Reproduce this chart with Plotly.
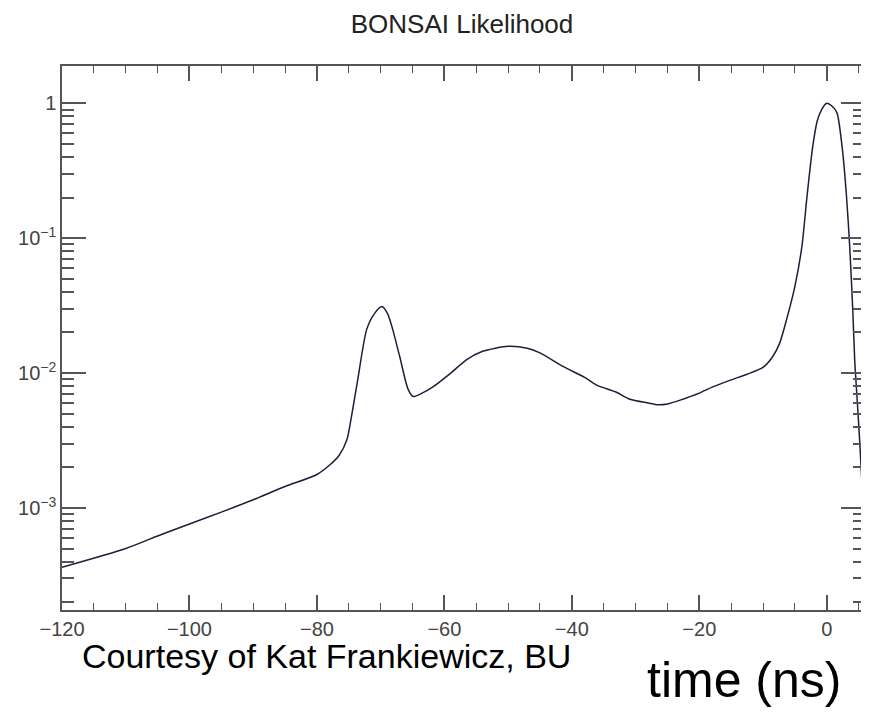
import plotly.graph_objects as go

# ---- data ----
time_ns = [-120, -110, -104.6, -100, -95, -90, -85, -80, -78, -76.5, -75.3, -74.5,
           -73.6, -72.2, -71, -69.8, -68.9, -68.1, -67.0, -65.7, -64.9, -63.5, -61.8,
           -59, -56.5, -54, -52, -50, -47, -45, -41.4, -38, -36, -33, -30.9, -28,
           -26.5, -25, -23, -20, -17.9, -15, -12.5, -10, -8.5, -7.4, -6.3, -5.0,
           -3.9, -3.1, -2.2, -1.5, -0.8, 0, 0.8, 1.6, 2.4, 3.1, 3.6, 4.1, 4.4, 4.9,
           5.5, 5.7]
likelihood = [3.63e-4, 5.0e-4, 6.3e-4, 7.6e-4, 9.3e-4, 1.15e-3, 1.44e-3, 1.77e-3,
              2.08e-3, 2.46e-3, 3.2e-3, 5.0e-3, 8.9e-3, 0.021, 0.0275, 0.0311,
              0.0275, 0.021, 0.0132, 0.0076, 0.0067, 0.0071, 0.0079, 0.010, 0.0126,
              0.0145, 0.0153, 0.0158, 0.0153, 0.0141, 0.0112, 0.0093, 0.0081,
              0.0072, 0.0064, 0.0060, 0.00582, 0.0059, 0.0063, 0.0071, 0.0079,
              0.0089, 0.0098, 0.011, 0.0132, 0.0166, 0.025, 0.044, 0.087, 0.204,
              0.479, 0.74, 0.90, 1.0, 0.955, 0.85, 0.479, 0.204, 0.087, 0.028,
              0.012, 0.0051, 0.0016, 7.9e-4]

y_tick_vals = [1e-3, 1e-2, 1e-1, 1]
y_tick_text = ["10<sup>−3</sup>", "10<sup>−2</sup>", "10<sup>−1</sup>", "1"]
title_text = "BONSAI Likelihood"
credit_text = "Courtesy of Kat Frankiewicz, BU"
xlabel_text = "time (ns)"

minor_y = [k * 10.0 ** e for e in range(-4, 1) for k in range(2, 10)]

FONT = "Liberation Sans, Arial, sans-serif"
AX = "#555555"
OFF = 8  # page body margin offset

W, H = 869 - OFF, 712 - OFF
L, R, T, B = 62 - OFF, 4, 66 - OFF, 712 - 610
PW, PH = W - L - R, H - T - B

fig = go.Figure()
fig.add_trace(go.Scatter(
    x=time_ns, y=likelihood, mode="lines",
    line=dict(color="#1e1e3c", width=1.5, shape="spline", smoothing=0.7),
    showlegend=False, hoverinfo="skip"))

fig.update_layout(
    width=W, height=H,
    margin=dict(l=L, r=R, t=T, b=B, autoexpand=False),
    paper_bgcolor="white", plot_bgcolor="white",
    font=dict(family=FONT, color="#444444"),
    title=dict(text=title_text, x=(462 - OFF) / W, xanchor="center",
               y=1 - (24 - OFF) / H, yanchor="middle", yref="container",
               font=dict(size=26, color="#222222", family=FONT)),
    xaxis=dict(range=[-120, 6], dtick=20, tick0=0, showgrid=False, zeroline=False,
               ticks="inside", ticklen=15, tickwidth=1.5, tickcolor=AX,
               showline=True, linecolor=AX, linewidth=1.5, mirror="ticks",
               tickfont=dict(size=20, color="#444444"),
               minor=dict(ticks="inside", dtick=5, tick0=0, ticklen=7,
                          tickwidth=1.2, tickcolor=AX)),
    yaxis=dict(type="log", range=[-3.757, 0.277], showgrid=False, zeroline=False,
               tickvals=y_tick_vals, ticktext=y_tick_text,
               ticks="inside", ticklen=24, tickwidth=1.5, tickcolor=AX,
               showline=True, linecolor=AX, linewidth=1.5, mirror="ticks",
               tickfont=dict(size=20, color="#444444"),
               minor=dict(ticks="inside", tickvals=minor_y, ticklen=12,
                          tickwidth=1.5, tickcolor=AX)),
)

fig.add_annotation(text=credit_text, xref="paper", yref="paper",
                   x=(80 - 62) / PW, y=(610 - 656) / PH,
                   xanchor="left", yanchor="middle", showarrow=False,
                   font=dict(size=34, color="#000000", family=FONT))
fig.add_annotation(text=xlabel_text, xref="paper", yref="paper",
                   x=(645 - 62) / PW, y=(610 - 680) / PH,
                   xanchor="left", yanchor="middle", showarrow=False,
                   font=dict(size=50, color="#000000", family=FONT))

fig.write_html("out.html")
